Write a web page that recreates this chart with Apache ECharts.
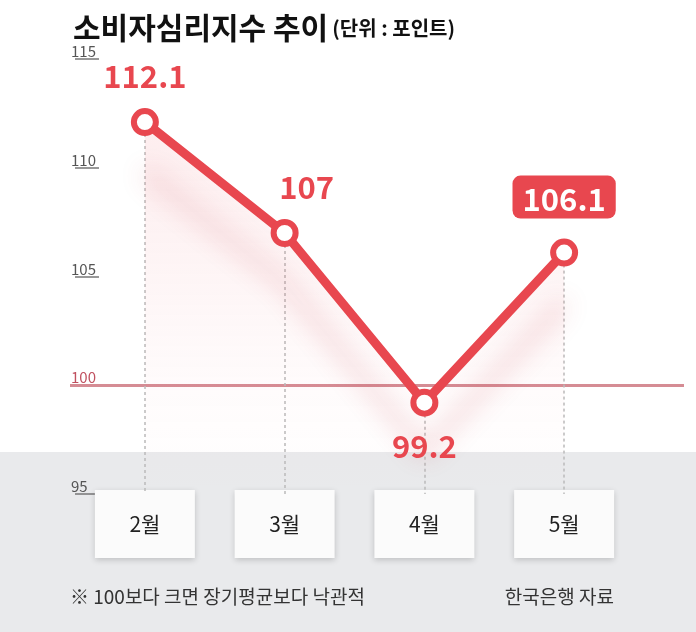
<!DOCTYPE html>
<html><head><meta charset="utf-8">
<script src="https://cdn.jsdelivr.net/npm/echarts@6/dist/echarts.min.js"></script>
<style>html,body{margin:0;background:#fff}#c{width:696px;height:632px}</style>
</head><body><div id="c"></div>
<script>
const months = ['2월', '3월', '4월', '5월'];
const values = [112.1, 107, 99.2, 106.1];
const yTicks = [95, 100, 105, 110, 115];

const RED = '#e8474f';
const FONT = '"Noto Sans CJK KR", "Noto Sans", sans-serif';
const gridTop = 59, gridBottom = 632 - 494;

const chart = echarts.init(document.getElementById('c'));
chart.setOption({
  animation: false,
  textStyle: { fontFamily: FONT },
  title: {
    left: 68, top: 8,
    text: '{a|소비자심리지수 추이} {b|(단위 : 포인트)}',
    textStyle: { rich: {
      a: { fontSize: 30, fontWeight: 'bold', color: '#111', fontFamily: FONT },
      b: { fontSize: 20, fontWeight: 'bold', color: '#111', fontFamily: FONT }
    } }
  },
  graphic: [
    { type: 'rect', shape: { x: 0, y: 452, width: 696, height: 180 }, style: { fill: '#e9eaec' }, z: -10 },
    { type: 'text', left: 70, top: 587, style: { text: '※ 100보다 크면 장기평균보다 낙관적', fontSize: 19, fill: '#333', fontFamily: FONT } },
    { type: 'text', right: 82, top: 587, style: { text: '한국은행 자료', fontSize: 19, fill: '#333', fontFamily: FONT } }
  ],
  grid: [
    { left: 75, right: 62, top: gridTop, bottom: gridBottom },
    { left: 70, right: 12, top: gridTop, bottom: gridBottom }
  ],
  xAxis: [
    {
      type: 'category', data: months, gridIndex: 0,
      axisLine: { show: false }, axisTick: { show: false },
      axisLabel: {
        margin: -4, fontSize: 21, color: '#222', width: 100, height: 68, lineHeight: 68,
        align: 'center', backgroundColor: '#fbfbfb',
        shadowColor: 'rgba(0,0,0,0.18)', shadowBlur: 6, shadowOffsetY: 2
      }
    },
    { type: 'value', gridIndex: 1, min: 0, max: 1, show: false }
  ],
  yAxis: [
    {
      type: 'value', gridIndex: 0, min: 95, max: 115, interval: 5,
      axisLine: { show: false }, splitLine: { show: false },
      axisTick: { show: true, inside: true, length: 24, lineStyle: { color: '#777', width: 1.5 } },
      axisLabel: {
        inside: true, margin: -4, verticalAlign: 'bottom', fontSize: 15,
        color: v => (Number(v) === 100 ? '#c0505f' : '#555'),
        formatter: v => (yTicks.includes(v) ? String(v) : '')
      }
    },
    { type: 'value', gridIndex: 1, min: 95, max: 115, show: false }
  ],
  series: [
    {
      type: 'line', xAxisIndex: 1, yAxisIndex: 1, data: [], silent: true,
      markLine: {
        symbol: 'none', silent: true, label: { show: false },
        lineStyle: { color: '#d58c94', width: 3, type: 'solid' },
        data: [{ yAxis: 100 }]
      }
    },
    {
      type: 'line', z: 5,
      lineStyle: { color: RED, width: 9, shadowColor: 'rgba(200,60,70,0.25)', shadowBlur: 25, shadowOffsetY: 50 },
      itemStyle: { color: '#fff', borderColor: RED, borderWidth: 6 },
      symbol: 'circle', symbolSize: 22,
      areaStyle: {
        origin: 95,
        color: new echarts.graphic.LinearGradient(0, 0, 0, 1, [
          { offset: 0, color: 'rgba(240,110,120,0.18)' },
          { offset: 0.7, color: 'rgba(240,110,120,0.04)' },
          { offset: 1, color: 'rgba(240,110,120,0)' }
        ])
      },
      label: { show: true, color: RED, fontSize: 31, fontWeight: 'bold', fontFamily: FONT },
      data: values.map((v, i) => {
        const pos = [
          { position: 'top', distance: 16 },
          { position: 'top', offset: [22, 0], distance: 16 },
          { position: 'bottom', distance: 14 },
          { position: 'top', distance: 20, color: '#fff', backgroundColor: RED, borderRadius: 8, padding: [8, 10, 4, 10] }
        ][i];
        return { value: v, label: pos };
      }),
      markLine: {
        symbol: 'none', silent: true, label: { show: false },
        lineStyle: { color: '#bbb', width: 1.5, type: [3, 3] },
        data: values.map((v, i) => [{ coord: [i, v] }, { coord: [i, 95] }])
      }
    }
  ]
});
</script></body></html>
